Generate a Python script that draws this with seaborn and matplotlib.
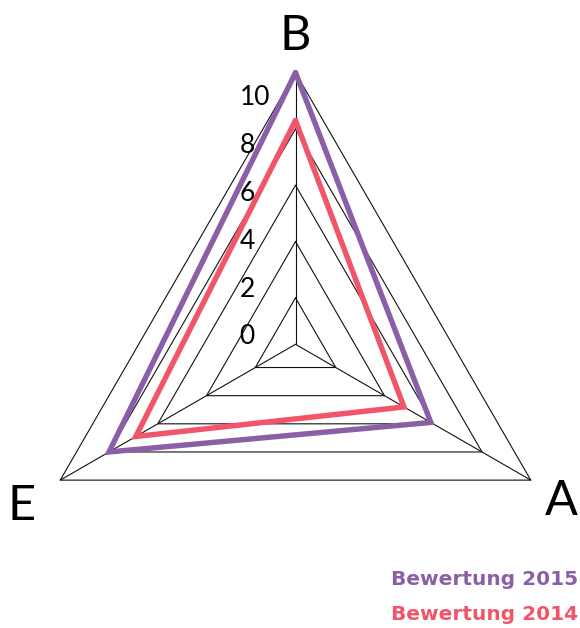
import numpy as np
import pandas as pd
import seaborn as sns
import matplotlib.pyplot as plt

# Data
categories = ['B', 'A', 'E']
series = ['Bewertung 2015', 'Bewertung 2014']
values_2015 = [10.0, 5.9, 8.0]
values_2014 = [8.3, 4.8, 6.9]
tick_values = [0, 2, 4, 6, 8, 10]
ring_values = [2, 4, 6, 8, 10]

colors = {'Bewertung 2015': '#8a5fa8', 'Bewertung 2014': '#f0556a'}

# radial scale: center of the chart sits slightly below 0
vmin = 0.35
angles = np.deg2rad([90, -30, 210])
px = 28.15  # pixels per unit
cx, cy = 295.5, 344.3  # center in pixels


def to_xy(vals):
    r = np.asarray(vals, dtype=float) - vmin
    return r * np.cos(angles), r * np.sin(angles)


rows = []
for name, vals in zip(series, [values_2015, values_2014]):
    x, y = to_xy(vals)
    x = np.append(x, x[0])
    y = np.append(y, y[0])
    for i in range(len(x)):
        rows.append({'series': name, 'x': x[i], 'y': y[i]})
df = pd.DataFrame(rows)

sns.set_style('white')
plt.rcParams['font.family'] = ['Lato', 'DejaVu Sans']

fig = plt.figure(figsize=(5.8, 6.28), dpi=100)
ax = fig.add_axes([0, 0, 1, 1])
ax.set_xlim(-cx / px, (580 - cx) / px)
ax.set_ylim(-(628 - cy) / px, cy / px)
ax.axis('off')

# grid triangles and spokes
for v in ring_values:
    gx, gy = to_xy([v] * 3)
    ax.plot(np.append(gx, gx[0]), np.append(gy, gy[0]), color='#111111', lw=0.8, zorder=1)
ox, oy = to_xy([ring_values[-1]] * 3)
for i in range(3):
    ax.plot([0, ox[i]], [0, oy[i]], color='#111111', lw=0.8, zorder=1)

# data polygons
sns.lineplot(data=df, x='x', y='y', hue='series', palette=colors, sort=False,
             estimator=None, lw=3.9, legend=False, ax=ax, zorder=2,
             solid_joinstyle='miter')

# tick labels along B axis
for t in tick_values:
    ax.text(-56 / px, 0.26 + 0.85 * t, str(t), ha='left', va='center',
            fontsize=19, color='black', zorder=3)

# category labels (placed by cap center, drawn from baseline)
label_r = [11.08, 10.92, 11.25]
for cat, a, r in zip(categories, angles, label_r):
    ax.text(r * np.cos(a), r * np.sin(a) - 0.62, cat, ha='center', va='baseline',
            fontsize=35, color='black')

# legend as text
for i, name in enumerate(series):
    fig.text(578 / 580, 1 - (585 + 35 * i) / 628, name, ha='right', va='baseline',
             fontsize=14.5, fontweight='bold', color=colors[name],
             family='DejaVu Sans')

fig.savefig('out.png', dpi=100)
